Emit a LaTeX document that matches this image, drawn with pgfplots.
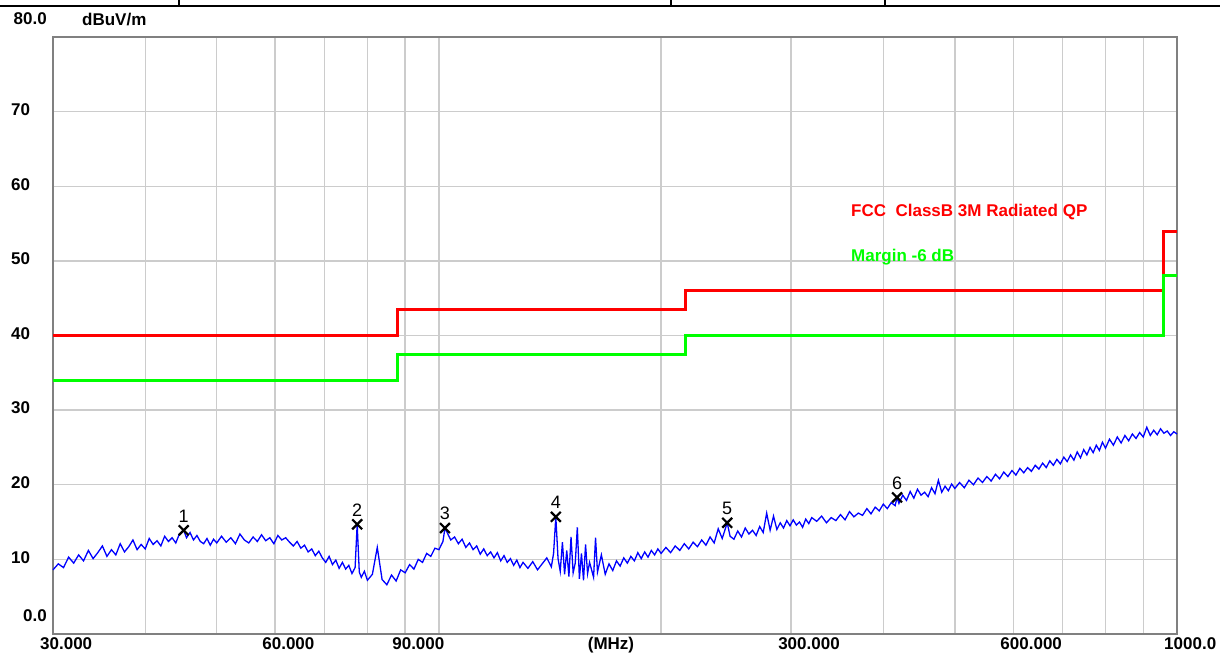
\documentclass[border=0pt]{standalone}
\usepackage{fontspec}
\setmainfont{Liberation Sans}
\usepackage{pgfplots}
\pgfplotsset{compat=1.18}
\definecolor{gridc}{HTML}{CCCCCC}
\definecolor{framec}{HTML}{808080}
\definecolor{limred}{HTML}{FF0000}
\definecolor{limgreen}{HTML}{00FF00}
\definecolor{trblue}{HTML}{0000FF}
\newcommand{\lbl}{\fontsize{17}{19}\selectfont\bfseries}
\begin{document}
\begin{tikzpicture}
\useasboundingbox (0pt,0pt) rectangle (1220pt,653pt);
\draw[line width=2.5pt] (0pt,647pt) -- (1220pt,647pt);
\draw[line width=1.5pt] (179pt,647pt) -- (179pt,653pt);
\draw[line width=1.5pt] (671pt,647pt) -- (671pt,653pt);
\draw[line width=1.5pt] (885pt,647pt) -- (885pt,653pt);
\begin{axis}[
  at={(53pt,19pt)}, anchor=south west,
  scale only axis, width=1124pt, height=597pt,
  xmode=log, xmin=30, xmax=1000, ymin=0, ymax=80,
  axis line style={draw=framec, line width=2.5pt},
  grid=major, major grid style={draw=gridc, line width=1.4pt},
  major tick length=0pt,
  xtick={40,50,60,70,80,90,100,200,300,400,500,600,700,800,900},
  xticklabels={,,60.000,,,90.000,,,300.000,,,600.000,,,},
  extra x ticks={30,1000},
  extra x tick labels={30.000,1000.0},
  extra x tick style={grid=none},
  xticklabel style={font=\lbl, anchor=north west, inner sep=0pt, xshift=-13pt, yshift=-3pt},
  ytick={10,20,30,40,50,60,70},
  yticklabels={10,20,30,40,50,60,70},
  extra y ticks={0,80},
  extra y tick labels={0.0,80.0},
  extra y tick style={grid=none, yticklabel style={anchor=east, xshift=36pt, yshift=16pt}},
  yticklabel style={font=\lbl, anchor=west, inner sep=0pt, xshift=-42pt, yshift=2pt},
  clip=false,
]
\addplot[limred, line width=3pt] coordinates {(30,40)(88,40)(88,43.5)(216,43.5)(216,46)(960,46)(960,54)(1000,54)};
\addplot[limgreen, line width=3pt] coordinates {(30,34)(88,34)(88,37.5)(216,37.5)(216,40)(960,40)(960,48)(1000,48)};
\addplot[trblue, line width=1.3pt] coordinates {
(30.0,8.6)(30.5,9.4)(31.0,8.9)(31.5,10.3)(32.0,9.5)(32.5,10.6)(33.0,9.8)(33.5,11.2)(34.0,10.1)(34.5,10.9)
(35.0,11.8)(35.5,10.4)(36.0,11.3)(36.5,10.6)(37.0,12.1)(37.5,11.0)(38.0,11.7)(38.5,12.6)(39.0,11.3)(39.5,12.0)
(40.0,11.4)(40.5,12.8)(41.0,12.0)(41.5,12.5)(42.0,11.8)(42.5,13.1)(43.0,12.4)(43.5,12.9)(44.0,12.2)(44.5,13.4)
(45.1,13.9)(45.5,12.9)(46.0,13.6)(46.5,12.6)(47.0,13.2)(47.5,12.4)(48.0,12.1)(48.5,12.8)(49.0,11.9)(49.5,12.7)
(50.0,12.2)(50.75,13.1)(51.5,12.3)(52.25,12.9)(53.0,12.1)(53.75,13.4)(54.5,12.6)(55.25,12.2)(56.0,13.0)(56.75,12.4)
(57.5,13.3)(58.25,12.5)(59.0,12.9)(59.75,12.1)(60.5,13.2)(61.25,12.6)(62.0,12.9)(62.75,12.3)(63.5,11.8)(64.25,12.4)
(65.0,11.5)(65.75,11.9)(66.5,11.0)(67.25,11.4)(68.0,10.5)(68.75,11.1)(69.5,10.2)(70.25,9.6)(71.0,10.4)(71.75,9.3)
(72.5,9.9)(73.25,8.8)(74.0,9.6)(74.75,8.7)(75.5,9.2)(76.25,8.1)(77.0,8.9)(77.5,14.7)(78.0,8.3)(78.5,7.6)
(79.25,8.4)(80.0,7.2)(81.25,8.0)(82.5,11.6)(83.75,7.3)(85.0,6.6)(86.25,7.9)(87.5,7.1)(88.75,8.6)(90.0,8.2)
(91.25,9.3)(92.5,8.7)(93.75,10.0)(95.0,9.6)(96.25,10.8)(97.5,10.4)(98.75,11.5)(100.0,11.3)(101.25,12.4)(101.9,14.2)
(103.75,12.6)(105.0,13.0)(106.25,12.1)(107.5,12.7)(108.75,11.6)(110.0,12.2)(111.25,11.3)(112.5,11.8)(113.75,10.7)(115.0,11.4)
(116.25,10.5)(117.5,11.0)(118.75,10.2)(120.0,10.9)(121.25,9.8)(122.5,10.5)(123.75,9.6)(125.0,10.1)(126.25,9.2)(127.5,9.9)
(128.75,8.9)(130.0,9.6)(132,8.8)(134,9.7)(136,8.6)(138,9.4)(140,10.2)(142,9.0)(143,10.8)(144,15.7)
(145,10.1)(146,8.4)(147,12.3)(148,8.0)(149,11.2)(150,7.7)(151,13.0)(152,8.2)(153,9.5)(154,14.3)
(155,7.4)(156,10.8)(157,7.2)(158,12.0)(159,8.1)(160,9.6)(162,7.6)(163,12.9)(164,8.3)(166,10.6)
(168,8.0)(170,9.4)(172,8.5)(174,9.8)(176,9.1)(178,10.2)(180,9.5)(182,10.4)(184,9.8)(186,10.9)
(188,10.1)(190,11.0)(192,10.3)(194,11.2)(196,10.6)(198,11.4)(200,10.8)(203,11.6)(206,10.9)(209,11.8)
(212,11.2)(215,12.1)(218,11.4)(221,12.3)(224,11.7)(227,12.6)(230,11.9)(233,13.0)(236,12.2)(239,14.1)
(242,12.8)(245.8,14.9)(248,13.1)(251,12.7)(254,13.8)(257,13.0)(260,14.2)(263,13.4)(266,13.9)(269,13.2)
(272,14.4)(275,13.6)(278,16.2)(281,13.9)(284,15.8)(287,14.0)(290,14.9)(293,14.2)(296,15.2)(299,14.5)
(302,15.3)(305,14.6)(308,15.0)(311,14.3)(314,15.4)(317,14.8)(320,15.6)(325,15.1)(330,15.8)(335,14.9)
(340,15.6)(345,15.2)(350,16.0)(355,15.3)(360,16.4)(365,15.7)(370,16.2)(375,15.9)(380,16.8)(385,16.1)
(390,17.0)(395,16.5)(400,17.4)(405,16.8)(410,17.6)(415,17.2)(417.6,18.3)(420,17.5)(425,18.6)(430,17.9)
(435,19.1)(440,18.2)(445,19.4)(450,18.6)(455,19.0)(460,18.4)(465,19.6)(470,18.8)(475,20.6)(480,19.0)
(485,19.8)(490,19.2)(495,20.1)(500,19.5)(507.5,20.3)(515,19.6)(522.5,20.6)(530,20.0)(537.5,20.9)(545,20.3)
(552.5,21.1)(560,20.5)(567.5,21.4)(575,20.8)(582.5,21.7)(590,21.1)(597.5,21.9)(605,21.3)(612.5,22.2)(620,21.6)
(627.5,22.3)(635,21.8)(642.5,22.6)(650,22.1)(657.5,22.9)(665,22.3)(672.5,23.2)(680,22.6)(687.5,23.4)(695,22.8)
(702.5,23.7)(710,23.1)(717.5,24.0)(725,23.3)(732.5,24.4)(740,23.6)(747.5,24.7)(755,24.0)(762.5,25.0)(770,24.3)
(777.5,25.3)(785,24.6)(792.5,25.7)(800,24.9)(810,26.1)(820,25.3)(830,26.4)(840,25.6)(850,26.6)(860,25.9)
(870,26.8)(880,26.2)(890,27.0)(900,26.4)(910,27.7)(920,26.6)(930,27.3)(940,26.7)(950,27.5)(960,26.9)
(970,27.2)(980,26.6)(990,27.1)(1000,26.8)
};
\addplot[only marks, mark=x, mark size=7pt, black, line width=2.2pt,
  point meta=explicit symbolic,
  nodes near coords,
  nodes near coords style={font=\fontsize{18}{20}\selectfont, anchor=south, inner sep=0pt, yshift=7pt, text=black}]
  coordinates {(45.1,13.9)[1] (77.5,14.7)[2] (101.9,14.2)[3] (144,15.7)[4] (245.8,14.9)[5] (417.6,18.3)[6]};
\end{axis}
\node[anchor=west, inner sep=0pt, font=\lbl] at (82pt,633pt) {dBuV/m};
\node[anchor=west, inner sep=0pt, font=\lbl, text=limred] at (851pt,441pt) {FCC\ \ ClassB 3M Radiated QP};
\node[anchor=west, inner sep=0pt, font=\lbl, text=limgreen] at (851pt,396pt) {Margin -6 dB};
\node[anchor=north, inner sep=0pt, font=\lbl] at (611pt,16pt) {(MHz)};
\end{tikzpicture}
\end{document}
